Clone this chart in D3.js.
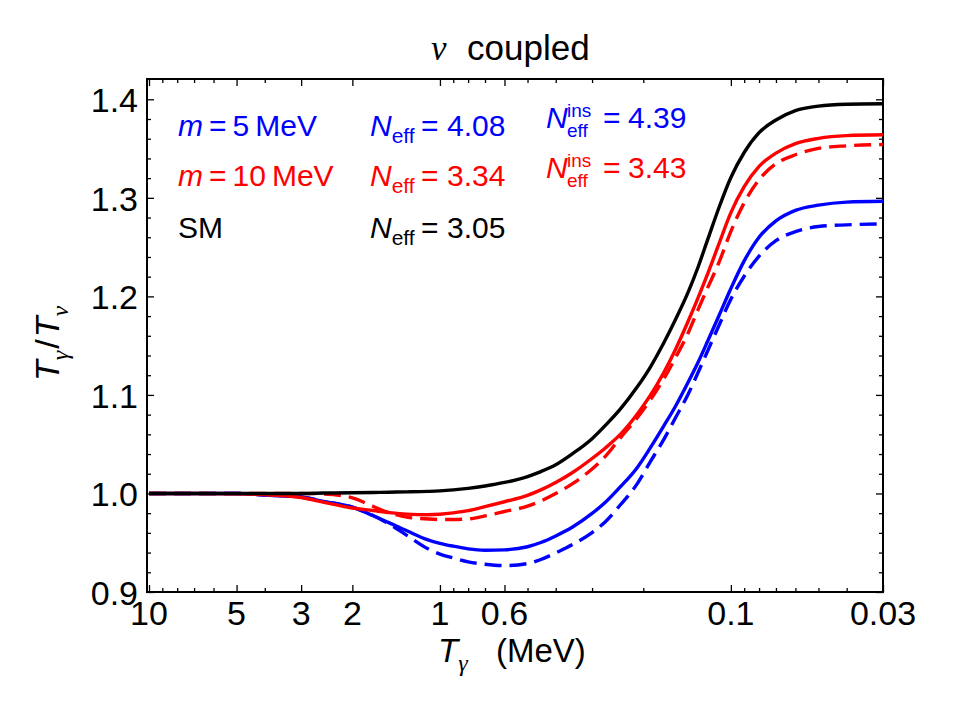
<!DOCTYPE html>
<html>
<head>
<meta charset="utf-8">
<script src="https://cdn.jsdelivr.net/npm/d3@7"></script>
<style>
  body { margin: 0; background: #fff; }
  text { font-family: "Liberation Sans", Arial, sans-serif; fill: #000; }
  .axis path, .axis line { stroke: #000; }
</style>
</head>
<body>
<div id="chart"></div>
<script>
// photon temperature grid (MeV), shared by every curve
var temps = [10, 7, 5, 4, 3, 2.5, 2, 1.7, 1.5, 1.3, 1.1, 1, 0.9, 0.8, 0.7, 0.6, 0.5, 0.45, 0.4, 0.35,
             0.3, 0.27, 0.24, 0.21, 0.19, 0.17, 0.155, 0.14, 0.13, 0.12, 0.11, 0.1, 0.09, 0.08, 0.07,
             0.06, 0.05, 0.04, 0.03];

// T_gamma / T_nu for each case
var smRatio = [1.000, 1.000, 1.000, 1.000, 1.000, 1.0004, 1.0007, 1.0010, 1.0013, 1.0016, 1.0021, 1.0026,
               1.0036, 1.0052, 1.0076, 1.0112, 1.0172, 1.0222, 1.0291, 1.0404, 1.0556, 1.0691, 1.0856,
               1.1080, 1.1273, 1.1529, 1.1765, 1.2048, 1.2288, 1.2581, 1.2897, 1.3206, 1.3460, 1.3661,
               1.3790, 1.3885, 1.3931, 1.3950, 1.3955];
var m10Ratio = [1.000, 1.000, 0.9997, 0.9988, 0.9959, 0.9910, 0.9852, 0.9827, 0.9807, 0.9790, 0.9784,
                0.9789, 0.9803, 0.9825, 0.9866, 0.9916, 0.9980, 1.0036, 1.0111, 1.0213, 1.0355, 1.0462,
                1.0599, 1.0804, 1.0987, 1.1228, 1.1462, 1.1753, 1.1978, 1.2234, 1.2530, 1.2850, 1.3114,
                1.3320, 1.3454, 1.3550, 1.3603, 1.3631, 1.3640];
var m10InsRatio = [1.000, 1.000, 1.000, 1.000, 1.000, 0.9995, 0.9955, 0.9870, 0.9805, 0.9760, 0.9741,
                   0.9736, 0.9736, 0.9741, 0.9772, 0.9817, 0.9871, 0.9924, 0.9999, 1.0099, 1.0249, 1.0377,
                   1.0562, 1.0767, 1.0941, 1.1163, 1.1378, 1.1633, 1.1858, 1.2091, 1.2341, 1.2660, 1.2950,
                   1.3184, 1.3346, 1.3437, 1.3502, 1.3528, 1.3541];
var m5Ratio = [1.000, 1.000, 1.000, 0.9984, 0.9964, 0.9917, 0.9861, 0.9776, 0.9704, 0.9621, 0.9529,
               0.9494, 0.9465, 0.9438, 0.9424, 0.9428, 0.9459, 0.9502, 0.9569, 0.9659, 0.9797, 0.9910,
               1.0066, 1.0262, 1.0455, 1.0686, 1.0885, 1.1133, 1.1324, 1.1550, 1.1801, 1.2080, 1.2360,
               1.2600, 1.2766, 1.2873, 1.2926, 1.2957, 1.2966];
var m5InsRatio = [1.000, 1.000, 1.000, 0.9984, 0.9964, 0.9917, 0.9861, 0.9776, 0.9693, 0.9575, 0.9439,
                  0.9385, 0.9345, 0.9306, 0.9282, 0.9268, 0.9289, 0.9330, 0.9397, 0.9482, 0.9603, 0.9713,
                  0.9883, 1.0097, 1.0313, 1.0549, 1.0768, 1.1011, 1.1220, 1.1451, 1.1702, 1.1972, 1.2204,
                  1.2409, 1.2566, 1.2657, 1.2709, 1.2726, 1.2735];

// axis ticks
var xMajor = [10, 5, 3, 2, 1, 0.6, 0.1, 0.03];
var xMajorLabels = ["10", "5", "3", "2", "1", "0.6", "0.1", "0.03"];
var xMinor = [9, 8, 7, 6, 4, 0.9, 0.8, 0.7, 0.5, 0.4, 0.3, 0.2, 0.09, 0.08, 0.07, 0.06, 0.05, 0.04];
var yMajor = [0.9, 1.0, 1.1, 1.2, 1.3, 1.4];
var yMinor = d3.range(0.92, 1.42, 0.02).filter(function(v){ return Math.abs(v*10 - Math.round(v*10)) > 0.01; });

// legend / annotation text
var massLabels = ["5", "10"];
var neffValues = ["4.08", "3.34", "3.05"];
var neffInsValues = ["4.39", "3.43"];

var margin = { top: 79, right: 78, bottom: 129, left: 147 };
var width = 961 - margin.left - margin.right,
    height = 721 - margin.top - margin.bottom;

var svg = d3.select("#chart").append("svg")
    .attr("width", 961)
    .attr("height", 721);

var g = svg.append("g")
    .attr("transform", "translate(" + margin.left + "," + margin.top + ")");

var x = d3.scaleLog().domain([10.16, 0.03]).range([0, width]);
var y = d3.scaleLinear().domain([0.9, 1.4206]).range([height, 0]);

// axes, ticks pointing inwards on all four sides
function drawTicks(axisFn, vals, len, translate) {
    var a = g.append("g").attr("class", "axis")
        .attr("transform", translate)
        .call(axisFn.tickValues(vals).tickSizeInner(-len).tickSizeOuter(0).tickFormat(""));
    a.select(".domain").remove();
    a.selectAll("line").attr("stroke-width", 1.3);
    return a;
}
drawTicks(d3.axisBottom(x), xMajor, 7, "translate(0," + height + ")");
drawTicks(d3.axisBottom(x), xMinor, 4, "translate(0," + height + ")");
drawTicks(d3.axisTop(x), xMajor, 7, "translate(0,0)");
drawTicks(d3.axisTop(x), xMinor, 4, "translate(0,0)");
drawTicks(d3.axisLeft(y), yMajor, 7, "translate(0,0)");
drawTicks(d3.axisLeft(y), yMinor, 4, "translate(0,0)");
drawTicks(d3.axisRight(y), yMajor, 7, "translate(" + width + ",0)");
drawTicks(d3.axisRight(y), yMinor, 4, "translate(" + width + ",0)");

// frame
g.append("rect")
    .attr("width", width).attr("height", height)
    .attr("fill", "none").attr("stroke", "#000").attr("stroke-width", 2);

// tick labels
g.selectAll(".xlab").data(xMajor).enter().append("text")
    .attr("class", "xlab")
    .attr("x", function(d){ return x(d); })
    .attr("y", height + 33)
    .attr("text-anchor", "middle")
    .style("font-size", "34px")
    .text(function(d, i){ return xMajorLabels[i]; });

g.selectAll(".ylab").data(yMajor).enter().append("text")
    .attr("class", "ylab")
    .attr("x", -9)
    .attr("y", function(d){ return y(d) + 13; })
    .attr("text-anchor", "end")
    .style("font-size", "34px")
    .text(function(d){ return d3.format(".1f")(d); });

// curves
var line = d3.line()
    .x(function(d){ return x(d[0]); })
    .y(function(d){ return y(d[1]); })
    .curve(d3.curveMonotoneX);

var series = [
    { vals: m5InsRatio, color: "#0000ff", dash: "17,8" },
    { vals: m10InsRatio, color: "#ff0000", dash: "17,8" },
    { vals: m5Ratio, color: "#0000ff", dash: null },
    { vals: m10Ratio, color: "#ff0000", dash: null },
    { vals: smRatio, color: "#000000", dash: null }
];

g.selectAll(".curve").data(series).enter().append("path")
    .attr("class", "curve")
    .attr("d", function(s){ return line(temps.map(function(t, i){ return [t, s.vals[i]]; })); })
    .attr("fill", "none")
    .attr("stroke", function(s){ return s.color; })
    .attr("stroke-width", 3.4)
    .attr("stroke-dasharray", function(s){ return s.dash; });

// title
var title = svg.append("text").attr("x", 431).attr("y", 60).style("font-size", "35px");
title.append("tspan").style("font-family", "Liberation Serif").style("font-style", "italic").text("ν");
title.append("tspan").attr("x", 467).text("coupled");

// axis titles
var xt = svg.append("text").attr("x", 438).attr("y", 662).style("font-size", "33px");
xt.append("tspan").style("font-style", "italic").text("T");
xt.append("tspan").attr("dy", 9).style("font-size", "24px").style("font-family", "Liberation Serif")
    .style("font-style", "italic").text("γ");
xt.append("tspan").attr("dy", -9).attr("x", 496).text("(MeV)");

var yt = svg.append("text").attr("transform", "translate(59,381) rotate(-90)").style("font-size", "34px");
yt.append("tspan").style("font-style", "italic").text("T");
yt.append("tspan").attr("dy", 9).style("font-size", "24px").style("font-family", "Liberation Serif")
    .style("font-style", "italic").text("γ");
yt.append("tspan").attr("dy", -9).attr("dx", 2).text("/");
yt.append("tspan").attr("dx", 2).style("font-style", "italic").text("T");
yt.append("tspan").attr("dy", 9).style("font-size", "24px").style("font-family", "Liberation Serif")
    .style("font-style", "italic").text("ν");

// legend: masses and SM
var rowY = [136, 186, 238];
var rowColor = ["#0000ff", "#ff0000", "#000000"];

massLabels.forEach(function(m, i){
    var t = svg.append("text").attr("x", 178).attr("y", rowY[i]).style("font-size", "30px");
    t.append("tspan").style("font-style", "italic").style("fill", rowColor[i]).text("m");
    t.append("tspan").style("fill", rowColor[i]).attr("dx", 6).text("=");
    t.append("tspan").style("fill", rowColor[i]).attr("dx", 6).text(m);
    t.append("tspan").style("fill", rowColor[i]).attr("dx", 6).text("MeV");
});
svg.append("text").attr("x", 178).attr("y", rowY[2]).style("font-size", "30px").text("SM");

// N_eff column
neffValues.forEach(function(v, i){
    var t = svg.append("text").attr("x", 370).attr("y", rowY[i]).style("font-size", "30px");
    t.append("tspan").style("font-style", "italic").style("fill", rowColor[i]).text("N");
    t.append("tspan").attr("dy", 7).style("font-size", "21px").style("fill", rowColor[i]).text("eff");
    t.append("tspan").attr("dy", -7).attr("x", 421).style("fill", rowColor[i]).text("=");
    t.append("tspan").attr("x", 447).style("fill", rowColor[i]).text(v);
});

// N_eff^ins column: superscript and subscript stacked after N
var insY = [128, 178];
neffInsValues.forEach(function(v, i){
    var t = svg.append("text").attr("x", 546).attr("y", insY[i]).style("font-size", "30px");
    t.append("tspan").style("font-style", "italic").style("fill", rowColor[i]).text("N");
    t.append("tspan").attr("x", 603).style("fill", rowColor[i]).text("=");
    t.append("tspan").attr("x", 628).style("fill", rowColor[i]).text(v);
    svg.append("text").attr("x", 567).attr("y", insY[i] - 11).style("font-size", "19px")
        .style("fill", rowColor[i]).text("ins");
    svg.append("text").attr("x", 567).attr("y", insY[i] + 9).style("font-size", "19px")
        .style("fill", rowColor[i]).text("eff");
});
</script>
</body>
</html>
